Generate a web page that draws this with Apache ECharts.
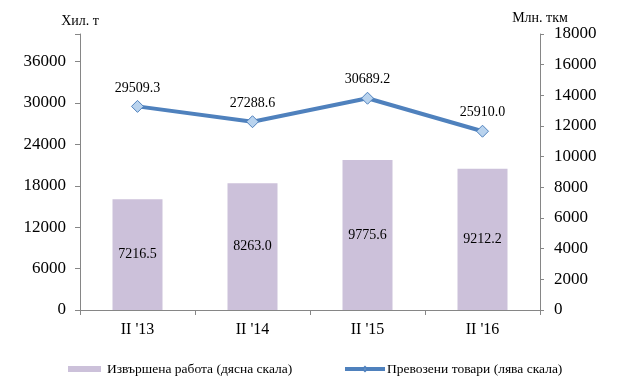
<!DOCTYPE html>
<html><head><meta charset="utf-8">
<script src="https://cdn.jsdelivr.net/npm/echarts@6/dist/echarts.min.js"></script>
<style>html,body{margin:0;padding:0;background:#fff}#c{width:623px;height:381px}</style>
</head><body><div id="c"></div>
<script>
var categories = ["II '13", "II '14", "II '15", "II '16"];
var workValues = [7216.5, 8263.0, 9775.6, 9212.2];
var goodsValues = [29509.3, 27288.6, 30689.2, 25910.0];
var leftTicks = [0, 6000, 12000, 18000, 24000, 30000, 36000];
var rightTicks = [0, 2000, 4000, 6000, 8000, 10000, 12000, 14000, 16000, 18000];
var barName = 'Извършена работа (дясна скала)';
var lineName = 'Превозени товари (лява скала)';
var leftName = 'Хил. т';
var rightName = 'Млн. ткм';

var FONT = '"Liberation Serif", "Times New Roman", serif';
var chart = echarts.init(document.getElementById('c'));
var axisLineStyle = {color: '#868686', width: 1};
chart.setOption({
  animation: false,
  textStyle: {fontFamily: FONT, color: '#000'},
  grid: {left: 80, right: 83, top: 34, bottom: 71, containLabel: false},
  legend: [
    {data: [barName], left: 63, top: 357, itemWidth: 33, itemHeight: 6, icon: 'rect', itemGap: 0,
     textStyle: {fontFamily: FONT, fontSize: 13.5, color: '#000', padding: [0, 0, 0, 1]}},
    {data: [lineName], left: 338, top: 357, itemWidth: 40, itemHeight: 5, itemGap: 0,
     lineStyle: {width: 4, color: '#4f81bd'},
     textStyle: {fontFamily: FONT, fontSize: 13.5, color: '#000', padding: [0, 0, 0, -3]}}
  ],
  xAxis: {
    type: 'category', data: categories,
    axisLine: {lineStyle: axisLineStyle},
    axisTick: {show: true, length: 5, lineStyle: axisLineStyle},
    axisLabel: {fontFamily: FONT, fontSize: 16, color: '#000', margin: 12},
    splitLine: {show: false}
  },
  yAxis: [
    {type: 'value', min: 0, max: 40000, interval: 6000, position: 'left',
     name: leftName, nameLocation: 'end', nameGap: 6,
     nameTextStyle: {fontFamily: FONT, fontSize: 14, color: '#000', align: 'center'},
     axisLine: {show: true, lineStyle: axisLineStyle},
     axisTick: {show: true, length: 5, lineStyle: axisLineStyle},
     axisLabel: {fontFamily: FONT, fontSize: 17, color: '#000', margin: 14,
       formatter: function (v) { return leftTicks.indexOf(v) >= 0 ? String(v) : ''; }},
     splitLine: {show: false}},
    {type: 'value', min: 0, max: 18000, interval: 2000, position: 'right',
     name: rightName, nameLocation: 'end', nameGap: 8,
     nameTextStyle: {fontFamily: FONT, fontSize: 14, color: '#000', align: 'center'},
     axisLine: {show: true, lineStyle: axisLineStyle},
     axisTick: {show: true, length: 4, lineStyle: axisLineStyle},
     axisLabel: {fontFamily: FONT, fontSize: 17, color: '#000', margin: 14,
       formatter: function (v) { return rightTicks.indexOf(v) >= 0 ? String(v) : ''; }},
     splitLine: {show: false}}
  ],
  series: [
    {name: barName, type: 'bar', yAxisIndex: 1, data: workValues, barWidth: 50,
     itemStyle: {color: '#ccc1da'},
     label: {show: true, position: 'inside', fontFamily: FONT, fontSize: 14, color: '#000',
       formatter: function (p) { return p.value.toFixed(1); }}},
    {name: lineName, type: 'line', yAxisIndex: 0, data: goodsValues,
     lineStyle: {color: '#4f81bd', width: 4},
     itemStyle: {color: '#b9d3ee', borderColor: '#4f81bd', borderWidth: 1},
     symbol: 'diamond', symbolSize: 12, showAllSymbol: true,
     label: {show: true, position: 'top', distance: 5, fontFamily: FONT, fontSize: 14, color: '#000',
       formatter: function (p) { return p.value.toFixed(1); }}}
  ]
});
</script></body></html>
